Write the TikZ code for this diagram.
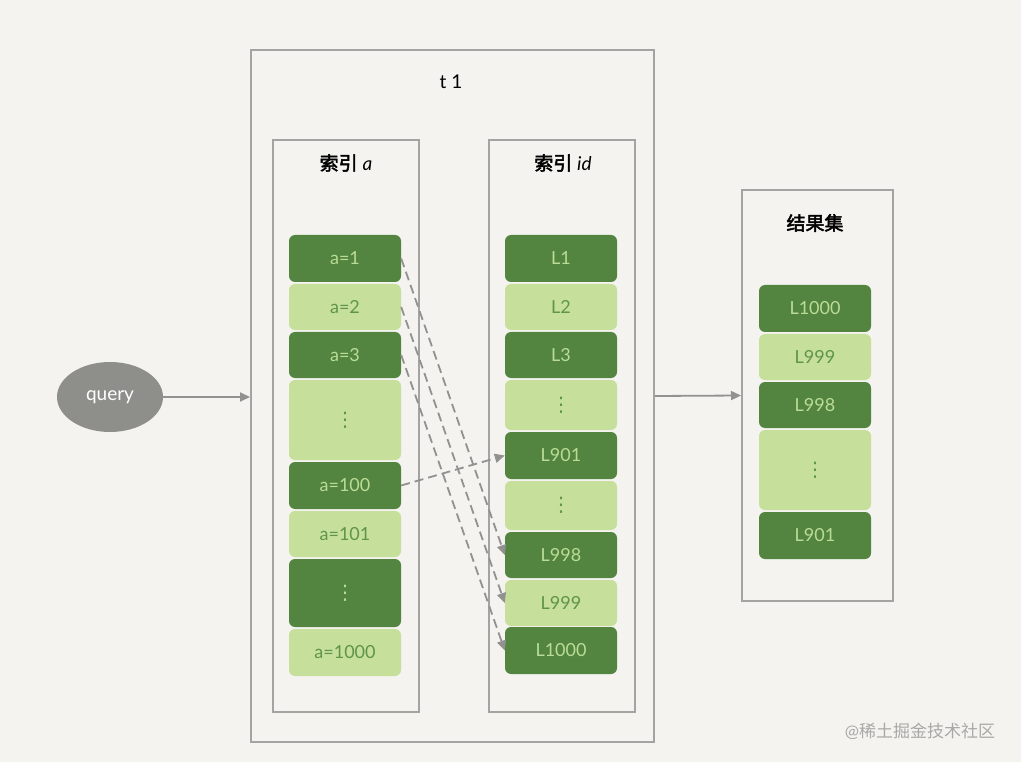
\documentclass[tikz,border=0pt]{standalone}
\usepackage{fontspec}
\setmainfont{Lato}
\newfontfamily\cjk[AutoFakeBold=2.5]{Noto Sans CJK SC}
\newfontfamily\symf{DejaVu Sans}
\usetikzlibrary{arrows.meta, shapes.geometric}
\definecolor{bgPaper}{HTML}{F4F3EF}
\definecolor{frGrey}{HTML}{A3A3A1}
\definecolor{arGrey}{HTML}{919190}
\definecolor{qGrey}{HTML}{8E8E8A}
\definecolor{dkGreen}{HTML}{538541}
\definecolor{ltGreen}{HTML}{C6E09C}
\definecolor{dkText}{HTML}{BBDC95}
\definecolor{ltText}{HTML}{5F9449}
\definecolor{wmGrey}{HTML}{A8A8A6}
\newcommand{\vdt}{{\symf\fontsize{20}{20}\selectfont ⋮}}
\tikzset{
  frame/.style={draw=frGrey, line width=2pt, fill=none, inner sep=0pt},
  ttl/.style={font=\fontsize{19}{21}\selectfont, text=black, inner sep=0pt},
  dk/.style={fill=dkGreen, text=dkText, rounded corners=6pt, minimum width=112pt,
             inner sep=0pt, font=\fontsize{18}{20}\selectfont},
  lt/.style={dk, fill=ltGreen, text=ltText},
  flow/.style={-{Triangle[length=10pt, width=9pt]}, line width=1.8pt, draw=arGrey},
  dflow/.style={flow, dash pattern=on 9pt off 5pt},
  qry/.style={ellipse, fill=qGrey, text=white, minimum width=106pt,
              minimum height=70pt, inner sep=0pt, font=\fontsize{19}{21}\selectfont},
}

\begin{document}
\begin{tikzpicture}[x=1pt, y=-1pt]
  \fill[bgPaper] (0,0) rectangle (1021,762);
  \useasboundingbox (0,0) rectangle (1021,762);

  % table t1 and its two indexes
  \node[frame, minimum width=403pt, minimum height=692pt] (t1) at (452.5,396) {};
  \node[ttl] (t1t) at (451,82) {t 1};
  \node[frame, minimum width=146pt, minimum height=572pt] (ixa) at (346,426) {};
  \node[ttl] (ixat) at (346,163) {{\cjk\bfseries 索引} \itshape a};
  \node[frame, minimum width=146pt, minimum height=572pt] (ixid) at (562,426) {};
  \node[ttl] (ixidt) at (563,163) {{\cjk\bfseries 索引} \itshape id};

  % result set
  \node[frame, minimum width=151pt, minimum height=411pt] (rs) at (817.5,395.5) {};
  \node[ttl] (rst) at (815,223) {\cjk\bfseries 结果集};

  % cells
  \foreach \n/\y/\h/\s/\t in {a1/258.5/47/dk/a=1, a2/307/46/lt/a=2, a3/355/46/dk/a=3,
      ad1/420/80/lt/\vdt, a100/485.5/47/dk/a=100, a101/534/46/lt/a=101,
      ad2/593/68/dk/\vdt, a1000/652.5/47/lt/a=1000}
    \node[\s, minimum height=\h pt] (\n) at (345,\y) {\t};
  \foreach \n/\y/\h/\s/\t in {i1/258.5/47/dk/L1, i2/307/46/lt/L2, i3/355/46/dk/L3,
      id1/405/50/lt/\vdt, i901/455.5/47/dk/L901, id2/505.5/49/lt/\vdt,
      i998/555/46/dk/L998, i999/603/46/lt/L999, i1000/650.5/47/dk/L1000}
    \node[\s, minimum height=\h pt] (\n) at (561,\y) {\t};
  \foreach \n/\y/\h/\s/\t in {r1000/308.5/47/dk/L1000, r999/357/46/lt/L999,
      r998/405/46/dk/L998, rd/470/80/lt/\vdt, r901/535.5/47/dk/L901}
    \node[\s, minimum height=\h pt] (\n) at (815,\y) {\t};

  % query
  \node[qry] (q) at (110,397) {query};
  \draw[flow] (q.east) -- (t1.west |- q.east);
  \draw[flow] (t1.east) -- (rs.west);

  % lookups back to the primary key
  \draw[dflow] (a1.east) -- (i998.west);
  \draw[dflow] (a2.east) -- (i999.west);
  \draw[dflow] (a3.east) -- (i1000.west);
  \draw[dflow] (a100.east) -- (i901.west);

  \node[font=\fontsize{17}{20}\selectfont, text=wmGrey, inner sep=0pt] (wm) at (920,731)
    {@{\cjk 稀土掘金技术社区}};
\end{tikzpicture}
\end{document}
